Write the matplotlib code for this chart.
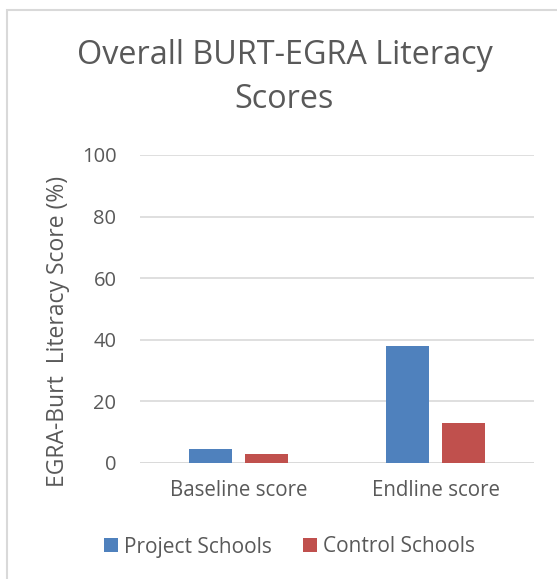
import matplotlib
matplotlib.use("Agg")
import matplotlib.pyplot as plt
from matplotlib.patches import Rectangle
import numpy as np

categories = ["Baseline score", "Endline score"]
series_names = ["Project Schools", "Control Schools"]
project = [4.5, 38.0]
control = [2.9, 12.9]
yticks = [0, 20, 40, 60, 80, 100]

plt.rcParams['font.family'] = ['Open Sans', 'DejaVu Sans']
txt = '#595959'

fig = plt.figure(figsize=(5.57, 5.79), dpi=100)
# outer border (chart area)
fig.patches.append(Rectangle((7/557, -0.1), 1.2, 1 - 10/579 + 0.1, transform=fig.transFigure,
                             fill=False, edgecolor='#d9d9d9', linewidth=1.5))

ax = fig.add_axes([140/557, 116/579, 394/557, 308/579])
x = np.arange(len(categories))
w = 0.223
off = 0.142
ax.bar(x - off, project, w, color='#4f81bd', label=series_names[0], zorder=3)
ax.bar(x + off, control, w, color='#c0504d', label=series_names[1], zorder=3)

ax.set_xlim(-0.5, 1.5)
ax.set_ylim(0, 100)
ax.set_yticks(yticks)
ax.set_yticklabels([str(v) for v in yticks], color=txt, fontsize=14.5)
ax.set_xticks(x)
ax.set_xticklabels(categories, color=txt, fontsize=14.8)
ax.tick_params(axis='y', length=0, pad=17)
ax.tick_params(axis='x', length=0, pad=12)
ax.yaxis.grid(True, color='#d9d9d9', linewidth=1.2, zorder=0)
for s in ax.spines.values():
    s.set_visible(False)
ax.axhline(0, color='#d9d9d9', linewidth=1.2, zorder=2)

fig.text(58/557, 1 - 331/579, "EGRA-Burt  Literacy Score (%)", rotation=90,
         ha='center', va='center', fontsize=16.5, color=txt)
fig.text(284.5/557, 1 - 55/579, "Overall BURT-EGRA Literacy", ha='center', va='center',
         fontsize=23.3, color=txt)
fig.text(284.5/557, 1 - 100/579, "Scores", ha='center', va='center', fontsize=23.3, color=txt)

leg = fig.legend(loc='center', bbox_to_anchor=(289.5/557, 1 - 547/579), ncol=2, frameon=False,
                 fontsize=15, handlelength=0.65, handleheight=0.65, handletextpad=0.3,
                 columnspacing=1.5, labelcolor=txt)

fig.savefig("out.png", dpi=100)
